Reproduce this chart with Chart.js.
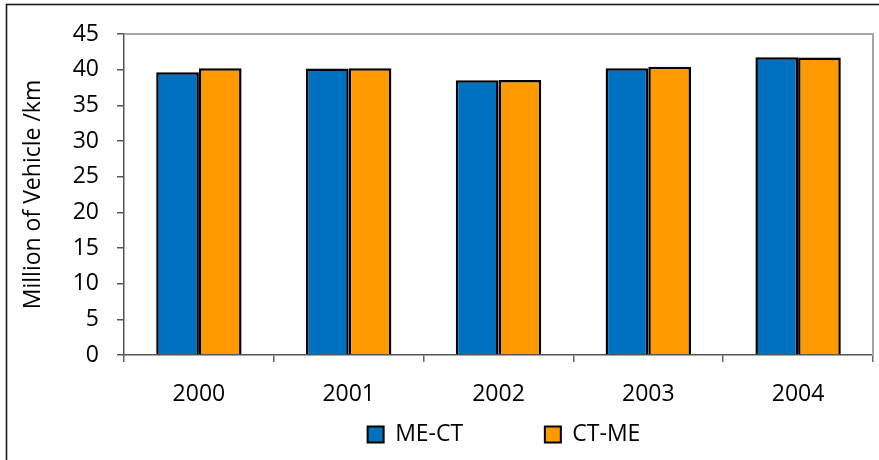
<!DOCTYPE html>
<html>
<head>
<meta charset="utf-8">
<script src="https://cdn.jsdelivr.net/npm/chart.js@4/dist/chart.umd.min.js"></script>
<style>
  html, body { margin: 0; padding: 0; background: #fff; }
  #wrap { width: 879px; height: 460px; position: relative; }
</style>
</head>
<body>
<div id="wrap"><canvas id="chart" width="879" height="460"></canvas></div>
<script>
  // ── Data ──
  const years = ['2000', '2001', '2002', '2003', '2004'];
  const meCt = [39.65, 40.15, 38.5, 40.2, 41.75];
  const ctMe = [40.2, 40.2, 38.55, 40.4, 41.7];
  const yTicks = [0, 5, 10, 15, 20, 25, 30, 35, 40, 45];

  const FONT = '"Open Sans", sans-serif';

  // outer frame, grey top/right edge of plot area, legend placement
  const framePlugin = {
    id: 'frame',
    afterLayout: function(chart) {
      // centre legend row under the plot area like the original
      chart.legend.left = 135;
    },
    beforeDraw: function(chart) {
      const ctx = chart.ctx;
      ctx.save();
      ctx.fillStyle = '#fff';
      ctx.fillRect(0, 0, chart.width, chart.height);
      ctx.strokeStyle = '#1a1a1a';
      ctx.lineWidth = 1.6;
      ctx.strokeRect(6.5, 4.5, chart.width + 20, chart.height + 20);
      ctx.restore();
    },
    beforeDatasetsDraw: function(chart) {
      const a = chart.chartArea, ctx = chart.ctx;
      ctx.save();
      ctx.strokeStyle = '#a6a6a6';
      ctx.lineWidth = 2;
      ctx.beginPath();
      ctx.moveTo(a.left, a.top);
      ctx.lineTo(a.right, a.top);
      ctx.lineTo(a.right, a.bottom);
      ctx.stroke();
      ctx.restore();
    }
  };

  new Chart(document.getElementById('chart'), {
    type: 'bar',
    data: {
      labels: years,
      datasets: [
        { label: 'ME-CT', data: meCt, backgroundColor: '#0070C0', borderColor: '#000', borderWidth: 2.5 },
        { label: 'CT-ME', data: ctMe, backgroundColor: '#FF9900', borderColor: '#000', borderWidth: 2.5 }
      ]
    },
    options: {
      responsive: false,
      animation: false,
      layout: { padding: { left: 14, top: 34, right: 6, bottom: 4 } },
      datasets: { bar: { categoryPercentage: 0.57, barPercentage: 1.0 } },
      scales: {
        x: {
          grid: { offset: true, drawOnChartArea: false, tickLength: 7, color: '#666', lineWidth: 1.5 },
          border: { color: '#555', width: 1.5 },
          ticks: { color: '#000', font: { family: FONT, size: 23 }, padding: 19 },
          afterFit: function(s) { s.height = 58; }
        },
        y: {
          min: 0, max: 45,
          afterBuildTicks: function(s) { s.ticks = yTicks.map(function(v) { return { value: v }; }); },
          grid: { drawOnChartArea: false, tickLength: 7, color: '#555', lineWidth: 1.5 },
          border: { color: '#555', width: 1.5 },
          ticks: { color: '#000', font: { family: FONT, size: 23 }, padding: 18 },
          title: { display: true, text: 'Million of Vehicle /km', color: '#000', font: { family: FONT, size: 23 }, padding: { top: 6, bottom: 0 } },
          afterFit: function(s) { s.width = 110; }
        }
      },
      plugins: {
        legend: {
          position: 'bottom',
          labels: {
            color: '#000',
            font: { family: FONT, size: 23 },
            boxWidth: 16, boxHeight: 16,
            padding: 10,
            generateLabels: function(chart) {
              const items = Chart.defaults.plugins.legend.labels.generateLabels(chart);
              items.forEach(function(it) { it.lineWidth = 2; it.strokeStyle = '#000'; });
              items[0].text = items[0].text + '            ';
              return items;
            }
          }
        },
        tooltip: { enabled: false }
      }
    },
    plugins: [framePlugin]
  });
</script>
</body>
</html>
